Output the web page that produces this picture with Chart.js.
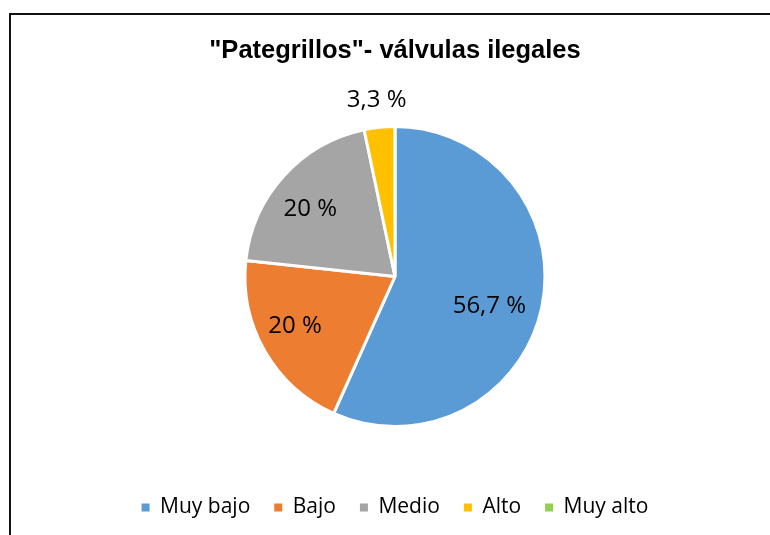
<!DOCTYPE html>
<html>
<head>
<meta charset="utf-8">
<script src="https://cdn.jsdelivr.net/npm/chart.js@4"></script>
<style>
  html, body { margin: 0; padding: 0; background: #fff; overflow: hidden; }
  #frame { position: absolute; left: 9px; top: 13px; width: 800px; height: 600px;
           border-left: 2px solid #111; border-top: 2px solid #111; }
  #wrap { position: absolute; left: 0; top: 0; width: 770px; height: 535px; }
</style>
</head>
<body>
<div id="frame"></div>
<div id="wrap"><canvas id="pie-chart"></canvas></div>
<script>
// datos del gráfico
const categorias = ['Muy bajo', 'Bajo', 'Medio', 'Alto', 'Muy alto'];
const porcentajes = [56.7, 20, 20, 3.3, 0];
const colores = ['#5B9BD5', '#ED7D31', '#A5A5A5', '#FFC000', '#92D050'];
const titulo = '"Pategrillos"- válvulas ilegales';

// colocación de etiquetas: fracción del radio y pequeño giro (grados)
const radioEtiqueta = [0.66, 0.745, 0.72, 1.18, 1.18];
const giroEtiqueta = [5.5, 3.4, -3.8, 0, 0];

function formato(v) {
  return String(v).replace('.', ',') + ' %';
}

const etiquetasPlugin = {
  id: 'etiquetas',
  afterDatasetsDraw(chart) {
    const ctx = chart.ctx;
    const meta = chart.getDatasetMeta(0);
    ctx.save();
    ctx.font = '24px "Open Sans"';
    ctx.fillStyle = '#000';
    ctx.textAlign = 'center';
    ctx.textBaseline = 'middle';
    meta.data.forEach((arc, i) => {
      const v = porcentajes[i];
      if (!v) return;
      const p = arc.getProps(['x', 'y', 'startAngle', 'endAngle', 'outerRadius']);
      const mid = (p.startAngle + p.endAngle) / 2 + giroEtiqueta[i] * Math.PI / 180;
      const r = p.outerRadius * radioEtiqueta[i];
      ctx.fillText(formato(v), p.x + Math.cos(mid) * r, p.y + Math.sin(mid) * r);
    });
    ctx.restore();
  }
};

new Chart(document.getElementById('pie-chart'), {
  type: 'pie',
  data: {
    labels: categorias,
    datasets: [{
      data: porcentajes,
      backgroundColor: colores,
      borderColor: '#fff',
      borderWidth: 3
    }]
  },
  options: {
    responsive: true,
    maintainAspectRatio: false,
    animation: false,
    radius: 150,
    layout: { padding: { left: 20, right: 0, top: 0, bottom: 7 } },
    plugins: {
      title: {
        display: true,
        text: titulo,
        color: '#000',
        font: { family: '"Liberation Sans", Arial', size: 25.5, weight: 'bold' },
        padding: { top: 36, bottom: 13.4 }
      },
      legend: {
        position: 'bottom',
        labels: {
          color: '#111',
          font: { family: '"Open Sans"', size: 21 },
          boxWidth: 8,
          boxHeight: 8,
          padding: 24,
          generateLabels(chart) {
            return chart.data.labels.map((l, i) => ({
              text: l,
              fillStyle: colores[i],
              strokeStyle: colores[i],
              lineWidth: 0,
              hidden: !chart.getDataVisibility(i),
              index: i
            }));
          }
        }
      },
      tooltip: { enabled: false }
    }
  },
  plugins: [etiquetasPlugin]
});
</script>
</body>
</html>
